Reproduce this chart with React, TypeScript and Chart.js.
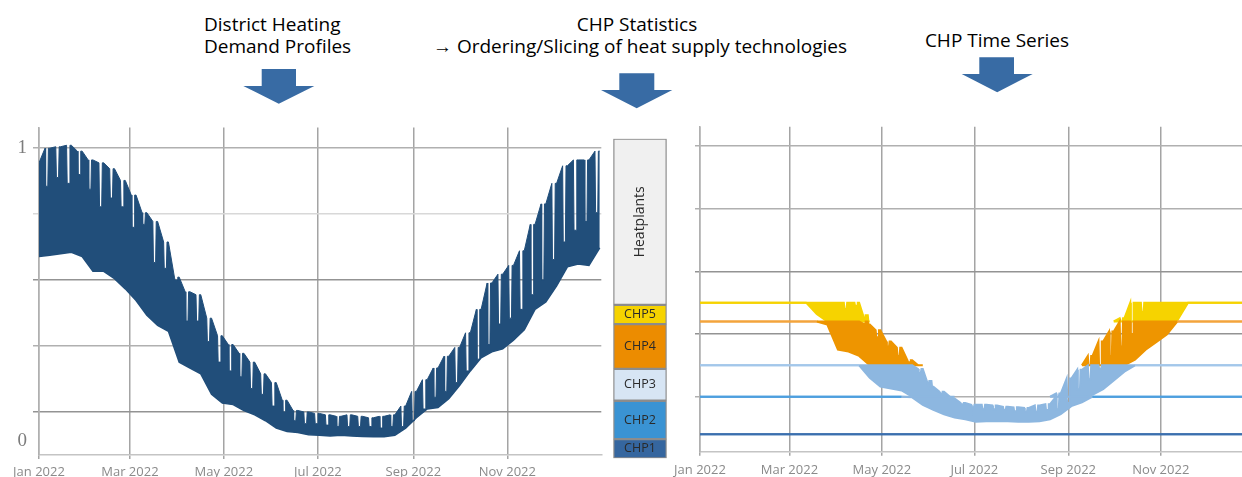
import React, { useEffect, useRef } from 'react';
import { Chart, registerables } from 'chart.js';

Chart.register(...registerables);

// ---------- shared time axis ----------
const MONTH_TICK_DAYS = [0, 59, 120, 181, 243, 304];
const MONTH_TICK_LABELS = ['Jan 2022', 'Mar 2022', 'May 2022', 'Jul 2022', 'Sep 2022', 'Nov 2022'];
const WEEK_DAYS = [0, 7, 14, 21, 28, 35, 42, 49, 56, 63, 70, 77, 84, 91, 98, 105, 112, 119, 126, 133, 140, 147, 154, 161, 168, 175, 182, 189, 196, 203, 210, 217, 224, 231, 238, 245, 252, 259, 266, 273, 280, 287, 294, 301, 308, 315, 322, 329, 336, 343, 350, 357, 364];
// day of the week on which the weekly low (weekend) of the daily peaks falls
const NOTCH_DAY = 5;

// ---------- left: normalised district heating demand ----------
// weekday peak, weekend peak and weekly minimum
const DEMAND_UPPER = [0.95, 1.0, 1.005, 1.01, 0.99, 0.96, 0.95, 0.93, 0.89, 0.84, 0.78, 0.75, 0.68, 0.56, 0.51, 0.5, 0.42, 0.36, 0.33, 0.3, 0.27, 0.23, 0.2, 0.14, 0.105, 0.1, 0.095, 0.09, 0.085, 0.09, 0.085, 0.08, 0.085, 0.09, 0.12, 0.17, 0.21, 0.25, 0.29, 0.32, 0.37, 0.45, 0.54, 0.57, 0.6, 0.65, 0.74, 0.81, 0.88, 0.94, 0.96, 0.96, 0.99];
const DEMAND_DIP = [0.87, 0.9, 0.88, 0.91, 0.86, 0.8, 0.83, 0.8, 0.73, 0.74, 0.61, 0.59, 0.55, 0.41, 0.41, 0.34, 0.27, 0.24, 0.22, 0.18, 0.16, 0.12, 0.1, 0.07, 0.06, 0.06, 0.055, 0.05, 0.05, 0.05, 0.05, 0.045, 0.05, 0.05, 0.07, 0.11, 0.15, 0.17, 0.2, 0.24, 0.28, 0.33, 0.4, 0.42, 0.45, 0.5, 0.55, 0.62, 0.68, 0.72, 0.75, 0.78, 0.8];
const DEMAND_LOWER = [0.63, 0.635, 0.64, 0.645, 0.63, 0.58, 0.58, 0.555, 0.52, 0.48, 0.43, 0.395, 0.375, 0.27, 0.25, 0.23, 0.16, 0.13, 0.125, 0.105, 0.09, 0.07, 0.045, 0.033, 0.03, 0.022, 0.02, 0.018, 0.02, 0.018, 0.016, 0.015, 0.015, 0.02, 0.045, 0.08, 0.11, 0.115, 0.145, 0.19, 0.24, 0.285, 0.305, 0.315, 0.345, 0.38, 0.45, 0.475, 0.53, 0.595, 0.605, 0.6, 0.66];
const DEMAND_Y_TICKS = [0, 0.102, 0.3266, 0.5512, 0.7754, 1];
const DEMAND_Y_LABELS = ['0', '', '', '', '', '1'];
const DEMAND_Y_MIN = -0.047;
const DEMAND_Y_MAX = 1.071;

// ---------- middle: CHP statistics stack ----------
const STACK_LABELS = ['CHP1', 'CHP2', 'CHP3', 'CHP4', 'CHP5', 'Heatplants'];
const STACK_VALUES = [0.3, 0.6, 0.5, 0.7, 0.3, 2.6];
const STACK_COLORS = ['#35669f', '#3a93d3', '#d7e5f4', '#ec8c00', '#f6d300', '#f0f0f0'];

// ---------- right: CHP time series ----------
const CHP_BASE = 0.1;
const TS_UPPER = [4.2, 4.25, 4.25, 4.3, 4.2, 4.0, 3.9, 3.8, 3.6, 3.3, 3.1, 2.95, 2.85, 2.75, 2.7, 2.6, 2.15, 2.06, 1.88, 1.78, 1.58, 1.44, 1.16, 1.08, 0.97, 0.9, 0.87, 0.87, 0.86, 0.84, 0.83, 0.82, 0.86, 0.88, 1.05, 1.29, 1.43, 1.65, 1.88, 2.04, 2.25, 2.6, 2.8, 3.0, 3.2, 3.4, 3.6, 3.8, 4.0, 4.1, 4.2, 4.2, 4.3];
const TS_DIP = [3.8, 3.85, 3.85, 3.9, 3.8, 3.6, 3.5, 3.4, 3.2, 2.95, 2.75, 2.6, 2.5, 2.4, 2.45, 2.3, 1.95, 1.8, 1.65, 1.55, 1.38, 1.25, 1.05, 0.98, 0.88, 0.83, 0.8, 0.8, 0.79, 0.77, 0.76, 0.76, 0.79, 0.8, 0.9, 1.12, 1.28, 1.45, 1.65, 1.8, 2.0, 2.35, 2.55, 2.75, 2.95, 3.1, 3.3, 3.5, 3.65, 3.75, 3.8, 3.85, 3.9];
const TS_LOWER = [2.9, 2.95, 2.95, 2.95, 2.9, 2.8, 2.75, 2.7, 2.65, 2.58, 2.52, 2.32, 2.15, 1.75, 1.72, 1.65, 1.3, 1.16, 1.13, 1.1, 0.99, 0.87, 0.79, 0.72, 0.67, 0.64, 0.6, 0.61, 0.61, 0.61, 0.6, 0.6, 0.61, 0.64, 0.72, 0.85, 0.91, 1.03, 1.12, 1.26, 1.4, 1.59, 1.75, 1.87, 1.99, 2.22, 2.52, 2.65, 2.8, 2.9, 2.95, 2.95, 3.0];
const TS_LINE_COLORS = ['#3b6fae', '#4d9fdf', '#a3c7ea', '#f3a43c', '#f6d300'];
const TS_BAND_COLORS = ['#8db7e0', '#8db7e0', '#8db7e0', '#ee9500', '#f6d300'];
const TS_Y_TICKS = [1, 2, 3, 4, 5];
const TS_Y_MIN = 0.123;
const TS_Y_MAX = 5.306;

const FONT = '"Open Sans", "Noto Sans", sans-serif';
const TICK_COLOR = '#8a8a8a';
const TRANSPARENT = 'rgba(0,0,0,0)';

function monthLabel(v: number) {
  const i = MONTH_TICK_DAYS.indexOf(v);
  return i >= 0 ? MONTH_TICK_LABELS[i] : '';
}

// peak line: each week's peak, rising/falling to the next week's peak, with the
// weekly (weekend) dip cut in as a narrow slit
function envelopePoints(upper: number[], dip: number[]) {
  const pts: { x: number; y: number }[] = [];
  WEEK_DAYS.forEach((d, i) => {
    pts.push({ x: d, y: upper[i] });
    if (i < WEEK_DAYS.length - 1) {
      pts.push({ x: d + NOTCH_DAY - 1.1, y: upper[i + 1] });
      pts.push({ x: d + NOTCH_DAY - 0.7, y: dip[i] });
      pts.push({ x: d + NOTCH_DAY + 0.7, y: dip[i] });
      pts.push({ x: d + NOTCH_DAY + 1.1, y: upper[i + 1] });
    }
  });
  return pts;
}

function xAxis(height: number, labelPad: number) {
  return {
    type: 'linear',
    min: 0,
    max: 365,
    afterBuildTicks: (s: any) => {
      s.ticks = MONTH_TICK_DAYS.map((v) => ({ value: v }));
    },
    afterFit: (s: any) => {
      s.height = height;
    },
    grid: { color: '#a4a4a4', lineWidth: 1.5, tickLength: 4, tickColor: '#a4a4a4' },
    border: { display: true, color: '#c4c4c4', width: 1.5 },
    ticks: {
      autoSkip: false,
      maxRotation: 0,
      padding: labelPad,
      color: TICK_COLOR,
      font: { family: FONT, size: 13 },
      callback: (v: number) => monthLabel(v),
    },
  };
}

const demandGridColor = (v: number) => {
  if (v === 0) return TRANSPARENT;
  if (v === 0.7754) return '#d8d8d8';
  if (v === 1 || v === 0.3266) return '#b0b0b0';
  return '#939393';
};

const tsGridColor = (v: number) => (v === 2 || v === 3 ? '#939393' : '#b0b0b0');

const stackLabelPlugin = {
  id: 'stackLabels',
  afterDatasetsDraw(chart: any) {
    const ctx = chart.ctx;
    chart.data.datasets.forEach((ds: any, i: number) => {
      const bar = chart.getDatasetMeta(i).data[0];
      if (!bar) return;
      const p = bar.getProps(['x', 'y', 'base'], true);
      const cy = (p.y + p.base) / 2;
      ctx.save();
      ctx.fillStyle = '#2a2a2a';
      ctx.textAlign = 'center';
      ctx.textBaseline = 'middle';
      if (ds.label === 'Heatplants') {
        ctx.font = `14px ${FONT}`;
        ctx.translate(p.x, cy);
        ctx.rotate(-Math.PI / 2);
        ctx.fillText(ds.label, 0, 0);
      } else {
        ctx.font = `12.5px ${FONT}`;
        ctx.fillText(ds.label, p.x, cy);
      }
      ctx.restore();
    });
  },
};

export default function App() {
  const leftRef = useRef<HTMLCanvasElement>(null);
  const midRef = useRef<HTMLCanvasElement>(null);
  const rightRef = useRef<HTMLCanvasElement>(null);

  useEffect(() => {
    const charts: Chart[] = [];

    // ----- left demand chart -----
    const navy = '#214e7a';
    charts.push(
      new Chart(leftRef.current as HTMLCanvasElement, {
        type: 'line',
        data: {
          datasets: [
            {
              label: 'max',
              data: envelopePoints(DEMAND_UPPER, DEMAND_DIP),
              borderColor: navy,
              backgroundColor: navy,
              borderWidth: 1,
              pointRadius: 0,
              fill: '+1',
            },
            {
              label: 'min',
              data: WEEK_DAYS.map((d, i) => ({ x: d, y: DEMAND_LOWER[i] })),
              borderColor: navy,
              borderWidth: 1.5,
              pointRadius: 0,
              fill: false,
            },
          ],
        } as any,
        options: {
          responsive: false,
          animation: false,
          layout: { padding: { top: 13, right: 3.7, bottom: 0, left: 0 } },
          plugins: { legend: { display: false }, tooltip: { enabled: false } },
          scales: {
            x: xAxis(22, 5) as any,
            y: {
              type: 'linear',
              min: DEMAND_Y_MIN,
              max: DEMAND_Y_MAX,
              afterBuildTicks: (s: any) => {
                s.ticks = DEMAND_Y_TICKS.map((v) => ({ value: v }));
              },
              afterFit: (s: any) => {
                s.width = 39;
              },
              grid: {
                lineWidth: 1.5,
                tickLength: 6,
                color: (c: any) => demandGridColor(c.tick ? c.tick.value : -1),
                tickColor: (c: any) => demandGridColor(c.tick ? c.tick.value : -1),
              },
              border: { display: true, color: '#b0b0b0', width: 1.5 },
              ticks: {
                padding: 6,
                color: '#7c7c7c',
                font: { family: '"Liberation Serif", "DejaVu Serif", serif', size: 19 },
                callback: (v: number) => {
                  const i = DEMAND_Y_TICKS.indexOf(v);
                  return i >= 0 ? DEMAND_Y_LABELS[i] : '';
                },
              },
            },
          },
        } as any,
      })
    );

    // ----- middle stacked bar -----
    const stackTotal = STACK_VALUES.reduce((a, b) => a + b, 0);
    charts.push(
      new Chart(midRef.current as HTMLCanvasElement, {
        type: 'bar',
        data: {
          labels: [''],
          datasets: STACK_LABELS.map((l, i) => ({
            label: l,
            data: [STACK_VALUES[i]],
            backgroundColor: STACK_COLORS[i],
            borderColor: '#8c8c8c',
            borderWidth: 1.5,
            borderSkipped: false,
            barPercentage: 1,
            categoryPercentage: 1,
          })),
        },
        options: {
          responsive: false,
          animation: false,
          layout: { padding: { top: 8.7, right: 3.3, bottom: 6.7, left: 8.3 } },
          plugins: { legend: { display: false }, tooltip: { enabled: false } },
          scales: {
            x: { stacked: true, display: false },
            y: { stacked: true, display: false, min: 0, max: stackTotal },
          },
        } as any,
        plugins: [stackLabelPlugin],
      })
    );

    // ----- right CHP time series -----
    const caps: number[] = [];
    STACK_VALUES.slice(0, 5).reduce((acc, v) => {
      const c = acc + v;
      caps.push(c);
      return c;
    }, CHP_BASE);

    const rawUpper = envelopePoints(TS_UPPER, TS_DIP);
    const tsDatasets: any[] = [];
    STACK_LABELS.slice(0, 5).forEach((name, k) => {
      const lo = k === 0 ? CHP_BASE : caps[k - 1];
      const hi = caps[k];
      const clamp = (v: number) => Math.min(Math.max(v, lo), hi);
      const dn = TS_LOWER.map(clamp);
      const up = rawUpper.map((p) => ({ x: p.x, y: clamp(p.y) }));
      // clamped weekly minimum at an arbitrary day (used only to pick the stroke colour)
      const dnAt = (x: number) => {
        let j = 0;
        while (j < WEEK_DAYS.length - 2 && WEEK_DAYS[j + 1] < x) j++;
        const t = (x - WEEK_DAYS[j]) / (WEEK_DAYS[j + 1] - WEEK_DAYS[j]);
        return dn[j] + (dn[j + 1] - dn[j]) * Math.min(Math.max(t, 0), 1);
      };
      const upSeg = (c: any) => {
        const a = up[c.p0DataIndex];
        const b = up[c.p1DataIndex];
        if (a.y <= lo && b.y <= lo) return TRANSPARENT;
        if (dnAt(a.x) >= hi - 1e-9 && dnAt(b.x) >= hi - 1e-9) return TS_LINE_COLORS[k];
        return TS_BAND_COLORS[k];
      };
      const dnSeg = (c: any) => {
        const a = c.p0DataIndex;
        const b = c.p1DataIndex;
        if (TS_UPPER[a] <= lo && TS_UPPER[b] <= lo) return TRANSPARENT;
        if (dn[a] >= hi && dn[b] >= hi) return TS_LINE_COLORS[k];
        return TS_BAND_COLORS[k];
      };
      tsDatasets.push({
        label: name,
        data: up,
        borderColor: TS_BAND_COLORS[k],
        backgroundColor: TS_BAND_COLORS[k],
        borderWidth: 2,
        pointRadius: 0,
        fill: '+1',
        segment: { borderColor: upSeg },
      });
      tsDatasets.push({
        label: name + ' min',
        data: WEEK_DAYS.map((d, i) => ({ x: d, y: dn[i] })),
        borderColor: TS_BAND_COLORS[k],
        borderWidth: 2,
        pointRadius: 0,
        fill: false,
        segment: { borderColor: dnSeg },
      });
    });

    charts.push(
      new Chart(rightRef.current as HTMLCanvasElement, {
        type: 'line',
        data: { datasets: tsDatasets },
        options: {
          responsive: false,
          animation: false,
          layout: { padding: { top: 16.7, right: 6.8, bottom: 0, left: 0 } },
          plugins: { legend: { display: false }, tooltip: { enabled: false } },
          scales: {
            x: xAxis(25.3, 7) as any,
            y: {
              type: 'linear',
              min: TS_Y_MIN,
              max: TS_Y_MAX,
              afterBuildTicks: (s: any) => {
                s.ticks = TS_Y_TICKS.map((v) => ({ value: v }));
              },
              afterFit: (s: any) => {
                s.width = 40;
              },
              grid: {
                lineWidth: 1.5,
                tickLength: 5,
                color: (c: any) => tsGridColor(c.tick ? c.tick.value : -1),
                tickColor: (c: any) => tsGridColor(c.tick ? c.tick.value : -1),
              },
              border: { display: true, color: '#b0b0b0', width: 1.5 },
              ticks: { callback: () => '' },
            },
          },
        } as any,
      })
    );

    return () => charts.forEach((c) => c.destroy());
  }, []);

  const titleStyle: React.CSSProperties = {
    position: 'absolute',
    fontFamily: FONT,
    fontSize: 19,
    lineHeight: '22px',
    color: '#000',
    whiteSpace: 'nowrap',
  };
  const arrowColor = '#386ba4';

  return (
    <div
      style={{
        position: 'absolute',
        left: 0,
        top: 0,
        width: 1242,
        height: 477,
        overflow: 'hidden',
        background: '#ffffff',
      }}
    >
      <div style={{ ...titleStyle, left: 204, top: 13.3 }}>
        District Heating
        <br />
        Demand Profiles
      </div>
      <div style={{ ...titleStyle, left: 337, width: 600, top: 12.7, textAlign: 'center' }}>
        CHP Statistics
      </div>
      <div style={{ ...titleStyle, left: 340, width: 600, top: 35.4, textAlign: 'center' }}>
        → Ordering/Slicing of heat supply technologies
      </div>
      <div style={{ ...titleStyle, left: 697, width: 600, top: 29.4, textAlign: 'center' }}>
        CHP Time Series
      </div>

      <svg width={1242} height={120} style={{ position: 'absolute', left: 0, top: 0 }}>
        <polygon
          fill={arrowColor}
          points="261.7,69 296,69 296,86 314.3,86 278.8,103.7 243.3,86 261.7,86"
        />
        <polygon
          fill={arrowColor}
          points="619.3,73.3 654.3,73.3 654.3,90 672.3,90 636.7,108.3 601,90 619.3,90"
        />
        <polygon
          fill={arrowColor}
          points="979.3,57.3 1014,57.3 1014,74 1032.7,74 997.2,92.3 961.7,74 979.3,74"
        />
      </svg>

      <canvas ref={leftRef} width={605} height={367} style={{ position: 'absolute', left: 0, top: 110 }} />
      <canvas ref={midRef} width={65} height={335} style={{ position: 'absolute', left: 605, top: 130 }} />
      <canvas ref={rightRef} width={600} height={367} style={{ position: 'absolute', left: 660, top: 110 }} />
    </div>
  );
}
